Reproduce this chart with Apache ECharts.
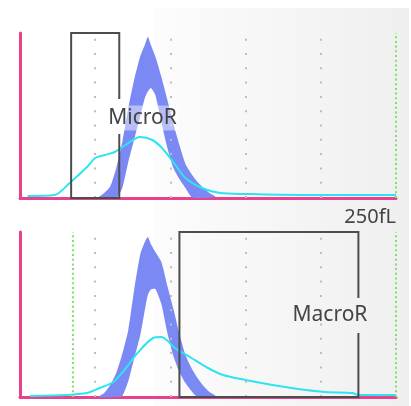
<!DOCTYPE html>
<html><head><meta charset="utf-8">
<script src="https://cdn.jsdelivr.net/npm/echarts@6/dist/echarts.min.js"></script>
<style>html,body{margin:0;padding:0;background:#fff}#c{width:411px;height:406px}</style>
</head><body><div id="c"></div>
<script>
// RBC volume (fL) sample positions for the reference band
const bandSizes = [52,56,60,64,68,72,76,80,83,85,87,90,94,98,102,106,110,114,118,122,126,130];
const topOuter = [0,5,11.5,30,56,90,119,142,153,161,153,141.5,121,98,74,53,34,24,16,10,5,1];
const topInner = [0,0,0,0,10,36,59,82,100,106.5,110,103,76,50,30,19,10,1,0,0,0,0];
const botOuter = [0,4,12,24,43,67,108,143,155,160,153,145,135,111,88,63,42,29,19,11,5,1];
const botInner = [0,0,0,0,1,16,39,62,87,102,107.5,108,93,64,41,25,14,6,0,0,0,0];
// patient histograms (cyan)
const topCyanX = [5,23,33,44.6,50,56.5,63,70,80,88,94.4,102.4,110,121,133,150,186,250];
const topCyanY = [2,3,15,31,40,43,46,53,61,58,50,35,20,10,5,4,3,3];
const botCyanX = [6.6,31,44.6,53,62,70,77,88.5,94,97.5,103,114,125,135,150,168,185,203,221,225,250];
const botCyanY = [1,2,4,9,15,28,42,59,60,57,49,39,29,22,17,12,8,5,4,2,2];
// gates
const gateMicro = [34, 66];
const gateMacro = [106, 225];
const gateNames = ['MicroR', 'MacroR'];
const gapRange = [64, 99];
const labelLevel = [80, 82];
// reference lines
const grayMarks = [50, 100, 150, 200];
const greenTop = [250];
const greenBot = [35, 250];
const xMax = 250, yMax = 165;
const xMaxLabel = '250fL';

const PINK = '#e8428c', BLUE = '#7a89f3', CYAN = '#2fe4f0';

function pairs(xs, ys){ return xs.map((x,i)=>[x, ys[i]]); }

function gateSeries(gi, gate, name, align, dx, bg){
  return {
    type:'custom', xAxisIndex:gi, yAxisIndex:gi, z:5, silent:true,
    data:[[gate[0], gate[1]]],
    encode:{x:[0,1]},
    renderItem:function(params, api){
      const a = api.coord([api.value(0), yMax]);
      const b = api.coord([api.value(1), 0]);
      const gt = api.coord([0, gapRange[1]])[1];
      const gb = api.coord([0, gapRange[0]])[1];
      const ly = api.coord([0, labelLevel[gi]])[1];
      return {type:'group', children:[
        {type:'polyline', shape:{points:[[b[0],gb],[b[0],b[1]],[a[0],b[1]],[a[0],a[1]],[b[0],a[1]],[b[0],gt]]},
         style:{stroke:'#4d4d4d', lineWidth:2, fill:null}},
        {type:'text', x:b[0]+dx, y:ly, z2:10,
         style:{text:name, fill:'#444', font:'21px "Noto Sans"', align:align, verticalAlign:'middle',
                backgroundColor:bg, padding:[2,2]}}
      ]};
    }
  };
}

function bandSeries(gi, outer, inner){
  return {
    type:'custom', xAxisIndex:gi, yAxisIndex:gi, z:2, silent:true,
    data:[[bandSizes[0], 0]], encode:{x:0, y:1},
    renderItem:function(params, api){
      const pts = bandSizes.map((x,i)=>api.coord([x, outer[i]]));
      let first = inner.findIndex(v=>v>0), last = inner.length-1;
      while (last>0 && inner[last]===0) last--;
      first = Math.max(0, first-1); last = Math.min(inner.length-1, last+1);
      for (let i=last; i>=first; i--) pts.push(api.coord([bandSizes[i], inner[i]]));
      return {type:'polygon', shape:{points:pts, smooth:0.2}, style:{fill:BLUE}};
    }
  };
}

function refLines(gi, greens){
  const d = grayMarks.map(v=>({xAxis:v, lineStyle:{color:'#bdbdbd', type:[2,12.3], width:2}}))
    .concat(greens.map(v=>({xAxis:v, lineStyle:{color:'#7be36a', type:[2,2.7], width:2}})));
  return {type:'line', xAxisIndex:gi, yAxisIndex:gi, data:[], z:1, silent:true,
    markLine:{symbol:['none','none'], silent:true, label:{show:false}, animation:false, data:d}};
}

const chart = echarts.init(document.getElementById('c'), null, {renderer:'canvas'});
const axisX = (gi, showLbl) => ({
  type:'value', gridIndex:gi, min:0, max:xMax, interval:50,
  axisLine:{show:true, onZero:false, lineStyle:{color:PINK, width:3}},
  axisTick:{show:false}, splitLine:{show:false},
  axisLabel:{show:showLbl, showMaxLabel:true, showMinLabel:false, formatter:v=> v===xMax ? xMaxLabel : '',
    align:'right', margin:9, color:'#444', fontSize:20, fontFamily:'Noto Sans'}
});
const axisY = gi => ({
  type:'value', gridIndex:gi, min:0, max:yMax,
  axisLine:{show:true, lineStyle:{color:PINK, width:3}},
  axisTick:{show:false}, splitLine:{show:false}, axisLabel:{show:false}
});

chart.setOption({
  animation:false,
  backgroundColor:'#ffffff',
  graphic:[{type:'rect', z:-100, shape:{x:155, y:8, width:254, height:398},
    style:{fill:new echarts.graphic.LinearGradient(0,0,1,0,[{offset:0,color:'#fcfcfc'},{offset:1,color:'#efefef'}])}}],
  grid:[{left:20, top:33, width:376, height:165}, {left:20, top:232, width:376, height:165}],
  xAxis:[axisX(0,true), axisX(1,false)],
  yAxis:[axisY(0), axisY(1)],
  series:[
    refLines(0, greenTop), refLines(1, greenBot),
    bandSeries(0, topOuter, topInner), bandSeries(1, botOuter, botInner),
    gateSeries(0, gateMicro, gateNames[0], 'left', -13, 'rgba(255,255,255,0.45)'),
    gateSeries(1, gateMacro, gateNames[1], 'right', 11, null),
    {type:'line', xAxisIndex:0, yAxisIndex:0, symbol:'none', smooth:0.3, z:4,
     lineStyle:{color:CYAN, width:2}, data:pairs(topCyanX, topCyanY)},
    {type:'line', xAxisIndex:1, yAxisIndex:1, symbol:'none', smooth:0.3, z:4,
     lineStyle:{color:CYAN, width:2}, data:pairs(botCyanX, botCyanY)}
  ]
});
</script></body></html>
